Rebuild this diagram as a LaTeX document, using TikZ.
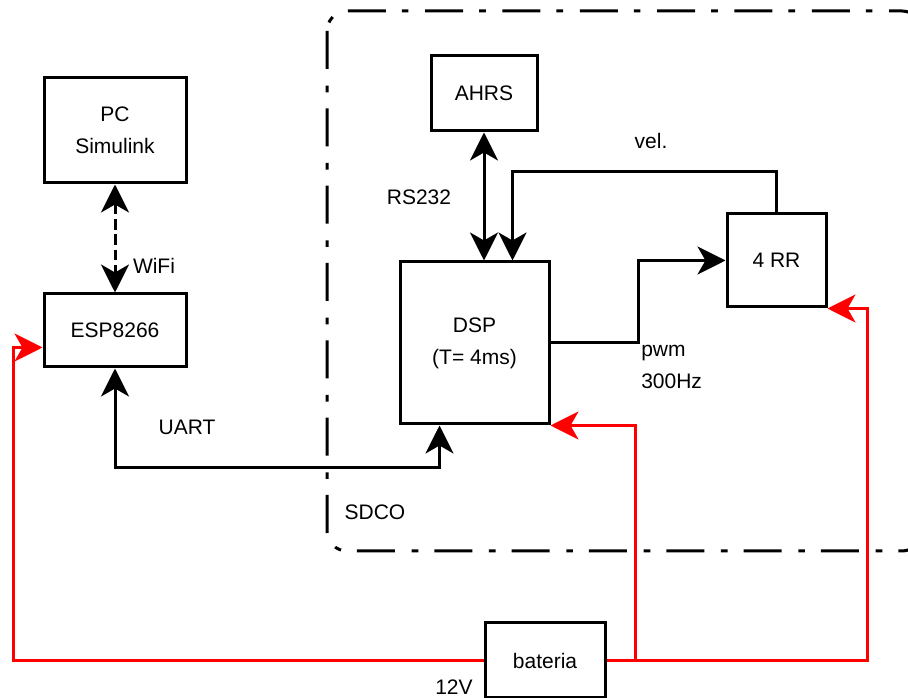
\documentclass[tikz,border=0pt]{standalone}
\usepackage{fontspec}
\setmainfont{Liberation Sans}
\usetikzlibrary{
  arrows.meta,
  positioning,
  calc,
}
\definecolor{wire}{HTML}{000000}
\definecolor{supply}{HTML}{FF0000}
\tikzset{
  every node/.style={
    font=\fontsize{15.75}{24}\selectfont,
    align=center,
    inner sep=0pt,
  },
  block/.style={
    rectangle,
    draw=wire, line width=2.25pt,
    fill=white,
  },
  flow/.style={
    -{Stealth[length=21pt,width=21pt,inset=6pt]},
    draw=wire, line width=2.25pt,
  },
  twoway/.style={
    {Stealth[length=21pt,width=21pt,inset=6pt]}-{Stealth[length=21pt,width=21pt,inset=6pt]},
    draw=wire, line width=2.25pt,
  },
  wireless/.style={
    twoway, dash pattern=on 8pt off 3.5pt,
  },
  power/.style={
    -{Stealth[length=21pt,width=21pt,inset=6pt]},
    draw=supply, line width=2.25pt,
  },
  groupframe/.style={
    draw=wire, line width=2.25pt, rounded corners=15pt,
    dash pattern=on 28.5pt off 12.5pt on 5pt off 12pt,
  },
}

\begin{document}
\begin{tikzpicture}[x=0.75pt, y=-0.75pt]

% canvas 908 x 698 (px), y downwards
\clip (0,0) rectangle (908,698);

% ----- SDCO frame -----
\draw[groupframe] (327,11) rectangle (922,551);
\node (sdcolbl) at (375,512) {SDCO};

% ----- blocks -----
\node[block, minimum width=106.5pt, minimum height=78.75pt] (pc)   at (115,130.5) {PC\\Simulink};
\node[block, minimum width=106.5pt, minimum height=54.75pt] (esp)  at (115,330.5) {ESP8266};
\node[block, minimum width=79.5pt,  minimum height=56.25pt] (ahrs) at (484,93.5)  {AHRS};
\node[block, minimum width=111.75pt, minimum height=121.5pt] (dsp) at (474.5,343) {DSP\\(T= 4ms)};
\node[block, minimum width=74.25pt, minimum height=69.75pt] (rr)   at (776.5,260.5) {4 RR};
\node[block, minimum width=90pt,    minimum height=56.25pt] (bat)  at (545,660.5) {bateria};

% ----- labels -----
\node (wifi) at (154,266) {WiFi};
\node (rs)   at (419,197) {RS232};
\node (vel)  at (651,141) {vel.};
\node (uart) at (187,427) {UART};
\node[anchor=west, align=left] (pwm) at (641,367) {pwm\\300Hz};
\node (volt) at (454,687) {12V};

% ----- signal connections -----
\draw[wireless] (pc) -- (esp);
\draw[twoway] (ahrs.south) -- (ahrs.south |- dsp.north);
\draw[flow] (rr.north) |- ($(dsp.north west)+(114,-89)$) -- ($(dsp.north west)+(114,0)$);
\draw[flow] (dsp.east) -- ++(88,0) |- (rr.west);
\draw[twoway] (esp.south) |- ($(dsp.south west)+(41,42)$) -- ($(dsp.south west)+(41,0)$);

% ----- supply (12V) -----
\draw[power] (bat.west) -| ($(esp.west)+(-29,17)$) -- ($(esp.west)+(0,17)$);
\draw[power] (bat.east) -- ++(29,0) |- (dsp.south east);
\draw[power] (bat.east) -| ($(rr.south east)+(40,0)$) -- (rr.south east);

\end{tikzpicture}
\end{document}
